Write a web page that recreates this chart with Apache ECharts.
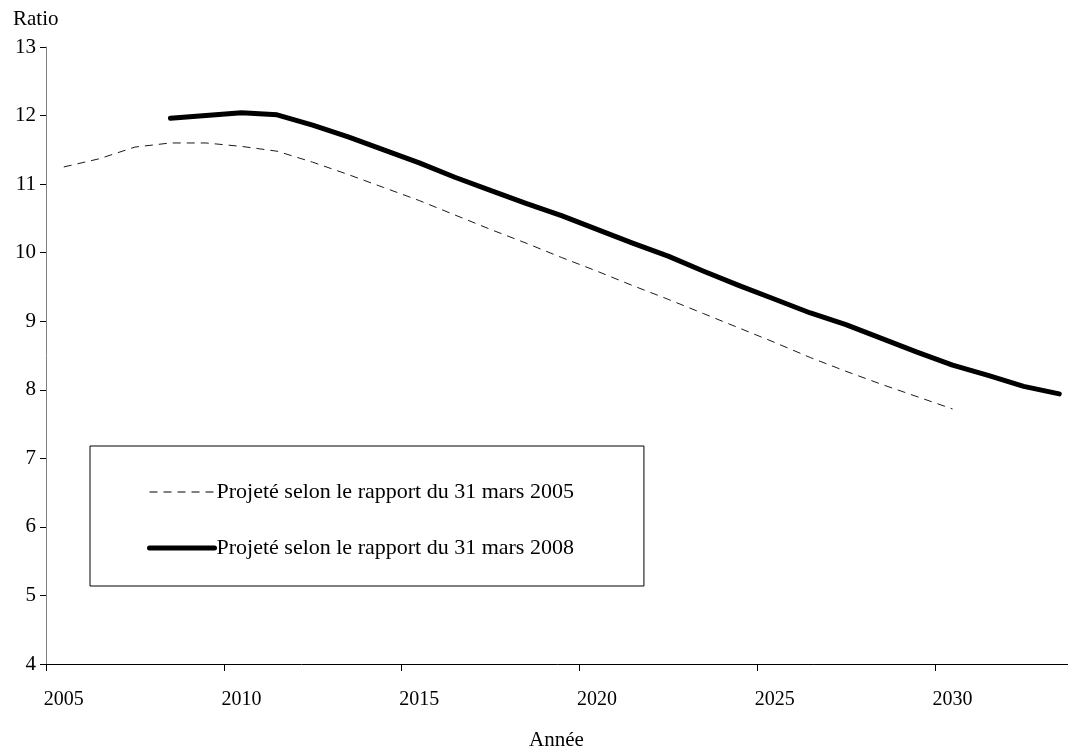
<!DOCTYPE html>
<html>
<head>
<meta charset="utf-8">
<script src="https://cdn.jsdelivr.net/npm/echarts@6/dist/echarts.min.js"></script>
<style>
  html, body { margin: 0; padding: 0; background: #fff; }
  #chart { width: 1068px; height: 752px; }
</style>
</head>
<body>
<div id="chart"></div>
<script>
// Years on the category axis (one band per year)
const years = ['2005','2006','2007','2008','2009','2010','2011','2012','2013','2014',
  '2015','2016','2017','2018','2019','2020','2021','2022','2023','2024',
  '2025','2026','2027','2028','2029','2030','2031','2032','2033'];

// Ratio projected in the 31 March 2005 report (2005-2030)
const ratio2005 = [11.25, 11.37, 11.54, 11.60, 11.60, 11.55, 11.48, 11.32, 11.14, 10.95,
  10.76, 10.55, 10.34, 10.14, 9.93, 9.73, 9.52, 9.32, 9.11, 8.90,
  8.69, 8.47, 8.27, 8.08, 7.90, 7.72];

// Ratio projected in the 31 March 2008 report (2008-2033)
const ratio2008 = [11.96, 12.00, 12.04, 12.01, 11.86, 11.69, 11.50, 11.31, 11.10, 10.91,
  10.72, 10.54, 10.34, 10.14, 9.95, 9.73, 9.52, 9.32, 9.12, 8.95,
  8.75, 8.55, 8.36, 8.21, 8.05, 7.94];

const seriesNames = ['Projeté selon le rapport du 31 mars 2005', 'Projeté selon le rapport du 31 mars 2008'];
const yTitle = 'Ratio';
const xTitle = 'Année';

// Align each projection with its starting year
function placeOnYears(values, firstYear) {
  const start = years.indexOf(firstYear);
  return years.map((y, i) => {
    const k = i - start;
    return (k >= 0 && k < values.length) ? values[k] : null;
  });
}

const FONT = '"Liberation Serif", "Times New Roman", serif';
const DASHED = { color: '#1a1a1a', width: 1, type: [8, 6] };
const THICK = { color: '#000', width: 5, cap: 'round', join: 'round' };
const noSymbol = { color: 'rgba(0,0,0,0)', borderWidth: 0, opacity: 0 };
const everyFifth = (index) => index % 5 === 0;

const chart = echarts.init(document.getElementById('chart'), null, { renderer: 'canvas' });

chart.setOption({
  animation: false,
  backgroundColor: '#ffffff',
  textStyle: { fontFamily: FONT, color: '#000' },
  title: {
    text: yTitle,
    left: 8,
    top: 4,
    textStyle: { fontFamily: FONT, fontSize: 21, fontWeight: 'normal', color: '#000' }
  },
  grid: { left: 46, right: -9, top: 47, bottom: 88, containLabel: false, outerBoundsMode: 'none' },
  legend: {
    data: [
      { name: seriesNames[0], lineStyle: { color: '#000', width: 1, type: [8, 6] }, itemStyle: noSymbol },
      { name: seriesNames[1], lineStyle: { color: '#000', width: 5, cap: 'round' }, itemStyle: noSymbol }
    ],
    orient: 'vertical',
    left: 90,
    top: 446,
    padding: [35, 70, 27, 57],
    itemWidth: 65,
    itemHeight: 14,
    itemGap: 34,
    borderColor: '#000',
    borderWidth: 1,
    itemStyle: noSymbol,
    textStyle: { fontFamily: FONT, fontSize: 22, color: '#000', padding: [0, 0, 0, -3] }
  },
  xAxis: {
    type: 'category',
    data: years,
    boundaryGap: true,
    name: xTitle,
    nameLocation: 'middle',
    nameGap: 66,
    nameTextStyle: { fontFamily: FONT, fontSize: 21, color: '#000', padding: [0, 10, 0, 0] },
    axisLine: { lineStyle: { color: '#000', width: 1 } },
    axisTick: { show: true, interval: everyFifth, length: 7, lineStyle: { color: '#000', width: 1 } },
    axisLabel: { interval: everyFifth, margin: 26, fontFamily: FONT, fontSize: 20, color: '#000' },
    splitLine: { show: false }
  },
  yAxis: {
    type: 'value',
    min: 4,
    max: 13,
    interval: 1,
    axisLine: { show: true, lineStyle: { color: '#808080', width: 1 } },
    axisTick: { show: true, length: 6, lineStyle: { color: '#000' } },
    axisLabel: { margin: 10, fontFamily: FONT, fontSize: 21, color: '#000' },
    splitLine: { show: false }
  },
  series: [
    {
      name: seriesNames[0],
      type: 'line',
      data: placeOnYears(ratio2005, '2005'),
      symbol: 'none',
      connectNulls: false,
      lineStyle: DASHED,
      itemStyle: { color: '#1a1a1a' }
    },
    {
      name: seriesNames[1],
      type: 'line',
      data: placeOnYears(ratio2008, '2008'),
      symbol: 'none',
      connectNulls: false,
      lineStyle: THICK,
      itemStyle: { color: '#000' }
    }
  ]
});
</script>
</body>
</html>
